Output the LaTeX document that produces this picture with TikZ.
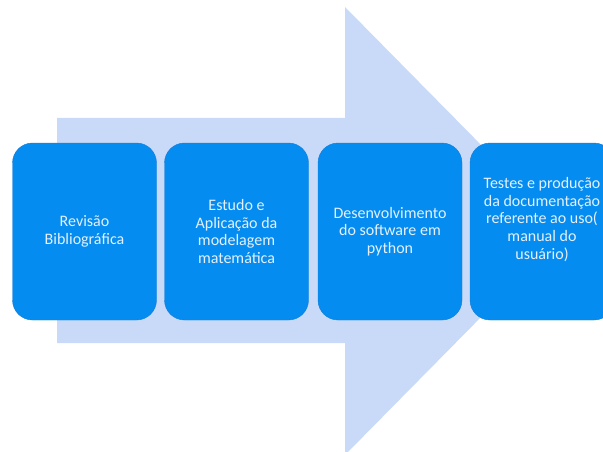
\documentclass[tikz,border=0pt]{standalone}
\usepackage{fontspec}
\setmainfont{Carlito}
\usepackage{tikz}

\definecolor{arrowfill}{RGB}{201,218,248}
\definecolor{boxfill}{RGB}{4,140,240}
\definecolor{boxedge}{RGB}{20,125,215}
\definecolor{boxtext}{RGB}{228,240,252}

\begin{document}
\begin{tikzpicture}[x=1pt,y=-1pt]
			\tikzstyle{etapa} = [rectangle,draw=boxedge,fill=boxfill,rounded corners=20pt,minimum width=144pt,minimum height=177pt,text=boxtext,align=center,font=\fontsize{16}{17.7}\selectfont,inner sep=2pt]
			
			\useasboundingbox (0,0) rectangle (603,452);
			\clip (0,0) rectangle (603,452);
			
			% seta de fundo
			\fill[arrowfill] (57,118) -- (345,118) -- (345,7) -- (566,231) -- (345,455) -- (345,343) -- (57,343) -- cycle;
			
			\node[etapa] (revisao) at (84.5,231.5) {Revisão\\Bibliográfica};
			\node[etapa] (estudo) at (236.5,231.5) {Estudo e\\Aplicação da\\modelagem\\matemática};
			\node[etapa] (software) at (390,231.5) {Desenvolvimento\\do software em\\python};
			\node[etapa] (testes) at (542,231.5) {\parbox{140pt}{\centering Testes e produção\\da documentação\\referente ao uso(\\manual do\\usuário)\par\vspace{24pt}}};
		\end{tikzpicture}
\end{document}
